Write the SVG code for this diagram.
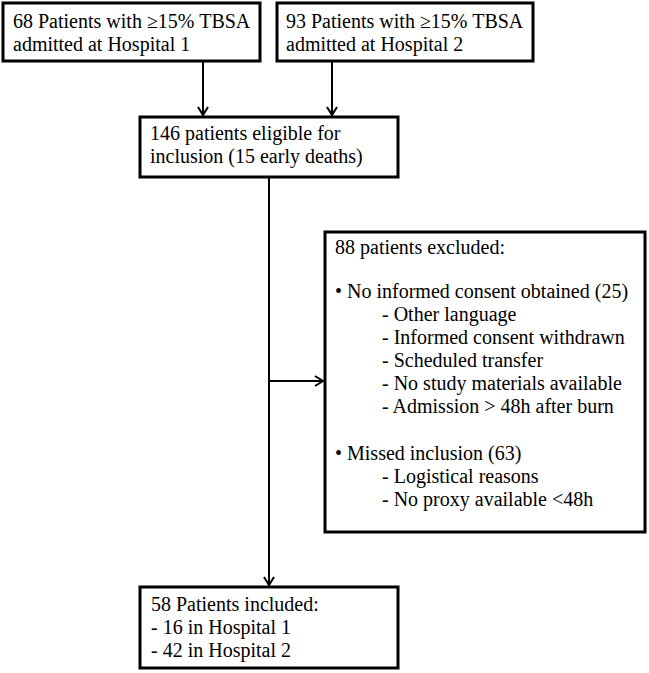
<svg xmlns="http://www.w3.org/2000/svg" width="649" height="673" viewBox="0 0 649 673">
<style>
.box{fill:#fff;stroke:#000;stroke-width:3}
.t{font-family:"Liberation Serif","Times New Roman",serif;font-size:20px;fill:#000}
.c{fill:none;stroke:#000;stroke-width:2}
</style>
<defs>
<marker id="ah" markerWidth="12" markerHeight="12" refX="10" refY="6" orient="auto" markerUnits="userSpaceOnUse">
<path d="M2,1 L10,6 L2,11" fill="none" stroke="#000" stroke-width="2"/>
</marker>
</defs>
<rect width="649" height="673" fill="#fff"/>
<g id="connectors">
<line class="c" x1="203" y1="61" x2="203" y2="115" marker-end="url(#ah)"/>
<line class="c" x1="332" y1="61" x2="332" y2="115" marker-end="url(#ah)"/>
<line class="c" x1="269" y1="177" x2="269" y2="585" marker-end="url(#ah)"/>
<line class="c" x1="269" y1="381" x2="323" y2="381" marker-end="url(#ah)"/>
</g>
<g id="hospital1">
<rect class="box" x="3" y="3" width="257" height="58"/>
<text class="t" x="13" y="28">68 Patients with ≥15% TBSA</text>
<text class="t" x="13" y="51">admitted at Hospital 1</text>
</g>
<g id="hospital2">
<rect class="box" x="277" y="3" width="256" height="58"/>
<text class="t" x="286" y="28">93 Patients with ≥15% TBSA</text>
<text class="t" x="286" y="51">admitted at Hospital 2</text>
</g>
<g id="eligible">
<rect class="box" x="140" y="117" width="258" height="60"/>
<text class="t" x="150" y="140">146 patients eligible for</text>
<text class="t" x="150" y="163">inclusion (15 early deaths)</text>
</g>
<g id="excluded">
<rect class="box" x="325" y="232" width="320" height="300"/>
<text class="t" x="335" y="254">88 patients excluded:</text>
<text class="t" x="335" y="298">• No informed consent obtained (25)</text>
<text class="t" x="382" y="321">- Other language</text>
<text class="t" x="382" y="344">- Informed consent withdrawn</text>
<text class="t" x="382" y="367">- Scheduled transfer</text>
<text class="t" x="382" y="390">- No study materials available</text>
<text class="t" x="382" y="413">- Admission &gt; 48h after burn</text>
<text class="t" x="335" y="460">• Missed inclusion (63)</text>
<text class="t" x="382" y="483">- Logistical reasons</text>
<text class="t" x="382" y="506">- No proxy available &lt;48h</text>
</g>
<g id="included">
<rect class="box" x="140" y="587" width="258" height="81"/>
<text class="t" x="151" y="611">58 Patients included:</text>
<text class="t" x="151" y="634">- 16 in Hospital 1</text>
<text class="t" x="151" y="657">- 42 in Hospital 2</text>
</g>
</svg>
